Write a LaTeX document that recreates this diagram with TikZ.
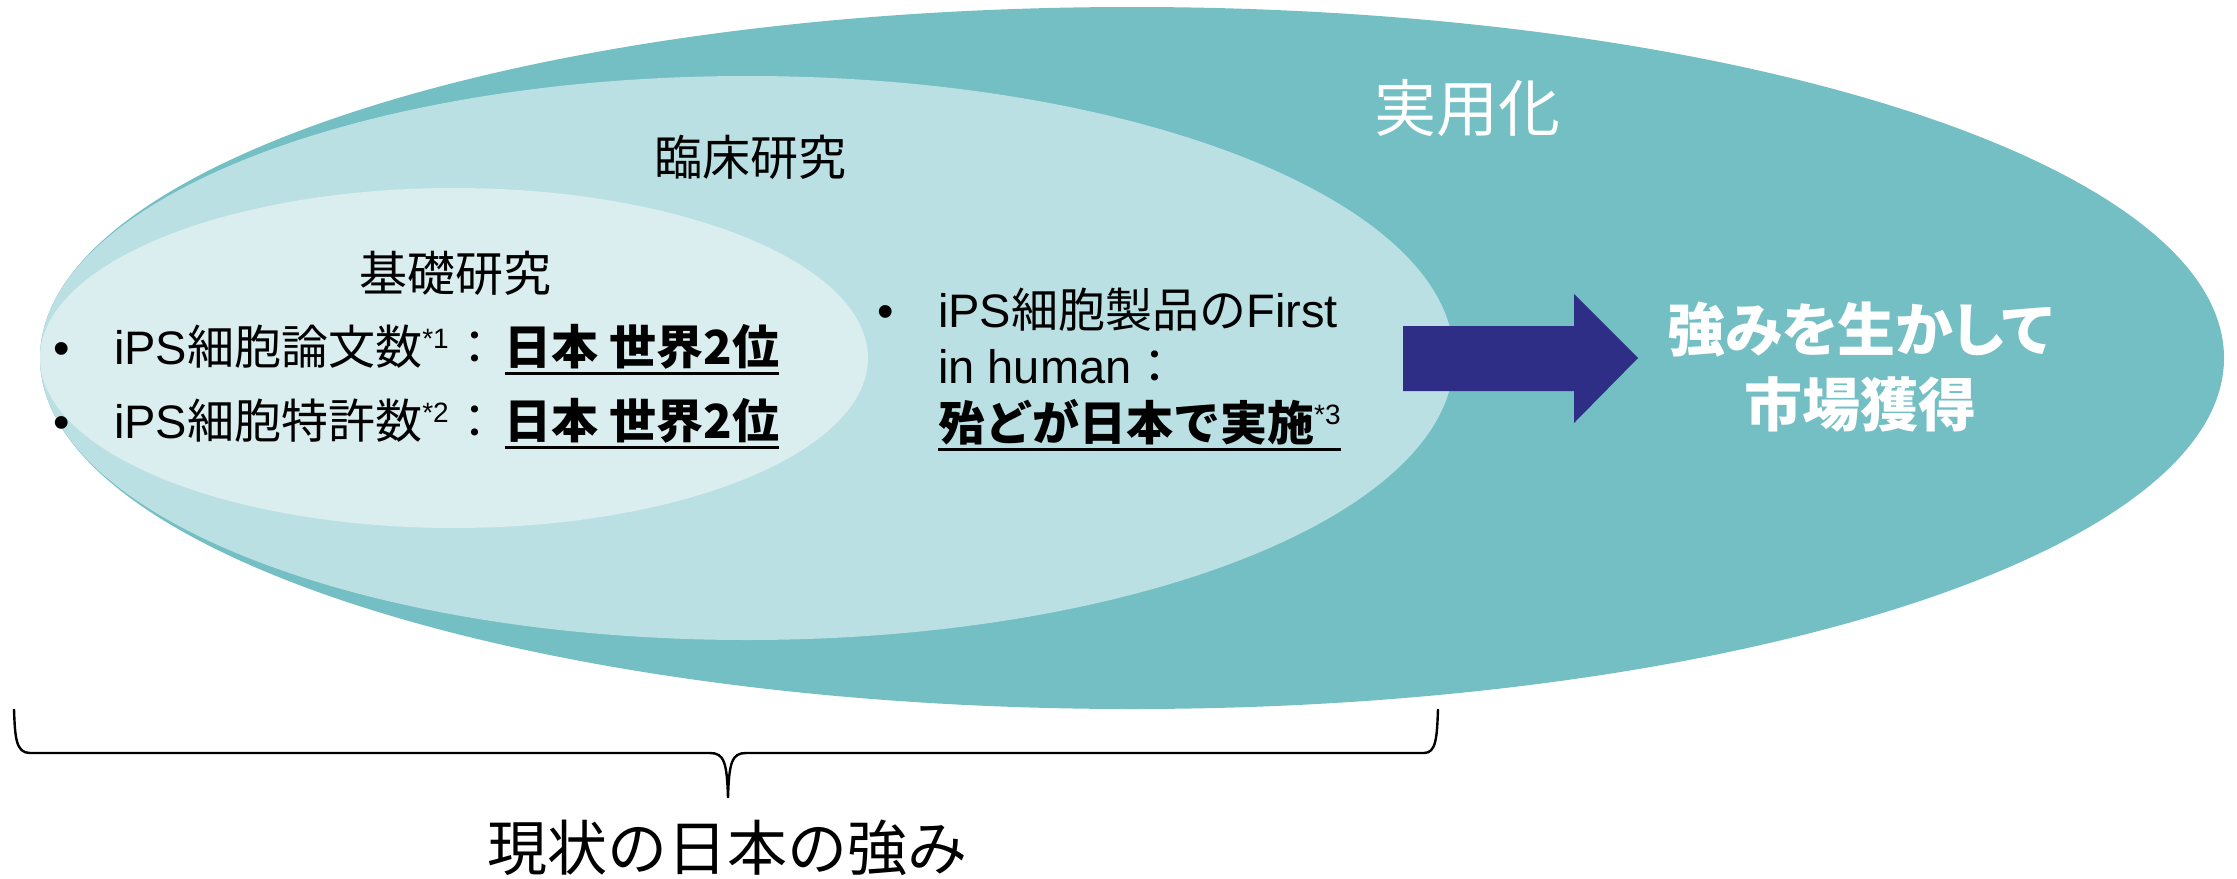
\documentclass[tikz,border=0pt]{standalone}
\usepackage{fontspec}
\setmainfont{Liberation Sans}
\newfontfamily\jp{Noto Sans CJK JP}
\newfontfamily\jpp{Noto Sans CJK JP}[RawFeature=+palt]
\newfontfamily\lat{Liberation Sans}
\definecolor{outerc}{RGB}{115,191,196}
\definecolor{midc}{RGB}{186,224,227}
\definecolor{innerc}{RGB}{218,237,239}
\definecolor{arrowc}{RGB}{46,46,135}
\newsavebox\ulbox
\newcommand\ulx[1]{\sbox\ulbox{#1}\rlap{\rule[-11pt]{\wd\ulbox}{3pt}}\usebox\ulbox}
\newcommand\supx[1]{\raisebox{16pt}{\fontsize{28}{28}\selectfont\lat #1}}
\begin{document}
\begin{tikzpicture}[x=1pt,y=-1pt,
  body/.style={inner sep=0pt, anchor=base west, font=\fontsize{47}{56}\selectfont},
  ttl/.style={inner sep=0pt, anchor=center, font=\fontsize{48}{56}\selectfont\jp},
]
\useasboundingbox (0,0) rectangle (2237,878);
% ellipses
\fill[outerc] (1132,358) ellipse [x radius=1092pt, y radius=351pt];
\fill[midc] (747,358) ellipse [x radius=707pt, y radius=282pt];
\fill[innerc] (454,358) ellipse [x radius=414pt, y radius=170pt];
% titles
\node[ttl, text=white, font=\fontsize{62}{70}\selectfont\jp] (jitsuyo) at (1467,108) {実用化};
\node[ttl] (rinsho) at (750,157) {臨床研究};
\node[ttl] (kiso) at (455,273) {基礎研究};
% left bullets
\node[body] (leftlist) at (53,364) {\vtop{\baselineskip=74pt
  \hbox{\makebox[61pt][l]{•}iPS{\jp 細胞論文数}\supx{*1}\hspace{3pt}{\jp ：}\hspace{6pt}\ulx{\jp\bfseries 日本 世界2位}}
  \hbox{\makebox[61pt][l]{•}iPS{\jp 細胞特許数}\supx{*2}\hspace{3pt}{\jp ：}\hspace{6pt}\ulx{\jp\bfseries 日本 世界2位}}}};
% right bullet
\node[body] (rightlist) at (938,327) {\vtop{\baselineskip=56.5pt
  \hbox{\llap{\makebox[61pt][l]{•}}iPS{\jp 細胞製品の}First}
  \hbox{in human{\jp ：}}
  \hbox{\ulx{{\jp\bfseries 殆どが日本で実施}\supx{*3}}}}};
% arrow
\fill[arrowc] (1403,326) -- (1574,326) -- (1574,294) -- (1638,358) -- (1574,423) -- (1574,391) -- (1403,391) -- cycle;
\node[inner sep=0pt, align=center, text=white, font=\fontsize{58}{75}\selectfont\jpp\bfseries] (goal) at (1860,367) {強みを生かして\\市場獲得};
% brace
\coordinate (bl) at (14,709);
\coordinate (br) at (1438,709);
\coordinate (bt) at (728,798);
\draw[line width=2.4pt] (bl) .. controls (15,738) and (16,753) .. (30,753) -- (710,753)
  .. controls (724,753) and (727,762) .. (bt)
  .. controls (729,762) and (732,753) .. (746,753) -- (1424,753)
  .. controls (1436,753) and (1437,738) .. (br);
\node[ttl, font=\fontsize{60}{70}\selectfont\jp] (genjo) at (727,848) {現状の日本の強み};
\end{tikzpicture}
\end{document}
